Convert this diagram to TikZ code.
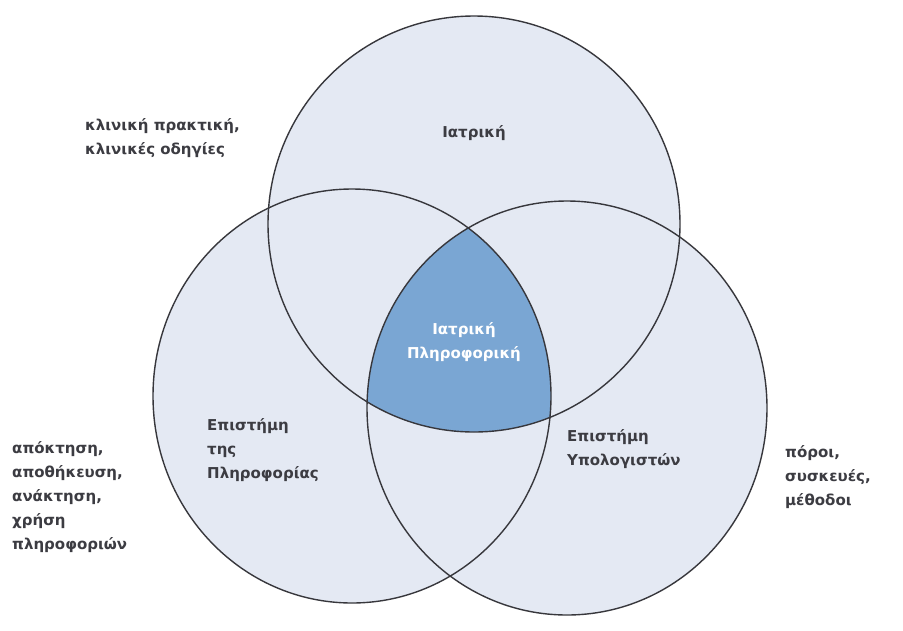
\documentclass[tikz,border=0pt]{standalone}
\usepackage{fontspec}
\setmainfont{DejaVu Sans}
\definecolor{lightfill}{RGB}{228,233,243}
\definecolor{midblue}{RGB}{122,166,211}
\definecolor{edge}{RGB}{55,55,60}
\definecolor{txt}{RGB}{60,60,66}
\begin{document}
\begin{tikzpicture}[x=1pt,y=-1pt,
  lbl/.style={font=\fontsize{15}{24}\selectfont\bfseries,text=txt,align=left,anchor=west,inner sep=0pt},
  clbl/.style={font=\fontsize{15}{24}\selectfont\bfseries,text=txt,align=center,inner sep=0pt},
  wlbl/.style={font=\fontsize{15}{24}\selectfont\bfseries,text=white,align=center,inner sep=0pt},
  ring/.style={draw=edge,line width=1.4pt}]
\useasboundingbox (0,0) rectangle (903,630);
\fill[white] (0,0) rectangle (903,630);
% fills
\fill[lightfill] (474,224) ellipse [x radius=206, y radius=208];
\fill[lightfill] (352,396) ellipse [x radius=199, y radius=207];
\fill[lightfill] (567,408) ellipse [x radius=200, y radius=207];
% triple intersection
\begin{scope}
  \clip (474,224) ellipse [x radius=206, y radius=208];
  \clip (352,396) ellipse [x radius=199, y radius=207];
  \fill[midblue] (567,408) ellipse [x radius=200, y radius=207];
\end{scope}
% outlines
\draw[ring] (474,224) ellipse [x radius=206, y radius=208];
\draw[ring] (352,396) ellipse [x radius=199, y radius=207];
\draw[ring] (567,408) ellipse [x radius=200, y radius=207];
% labels
\node[lbl] (clin) at (85,138) {κλινική πρακτική,\\κλινικές οδηγίες};
\node[clbl] (med) at (474,133) {Ιατρική};
\node[wlbl] (mi) at (464,342) {Ιατρική\\Πληροφορική};
\node[lbl] (infsci) at (207,450) {Επιστήμη\\της\\Πληροφορίας};
\node[lbl] (compsci) at (567,449) {Επιστήμη\\Υπολογιστών};
\node[lbl] (acq) at (12,497) {απόκτηση,\\αποθήκευση,\\ανάκτηση,\\χρήση\\πληροφοριών};
\node[lbl] (res) at (785,477) {πόροι,\\συσκευές,\\μέθοδοι};
\end{tikzpicture}
\end{document}
